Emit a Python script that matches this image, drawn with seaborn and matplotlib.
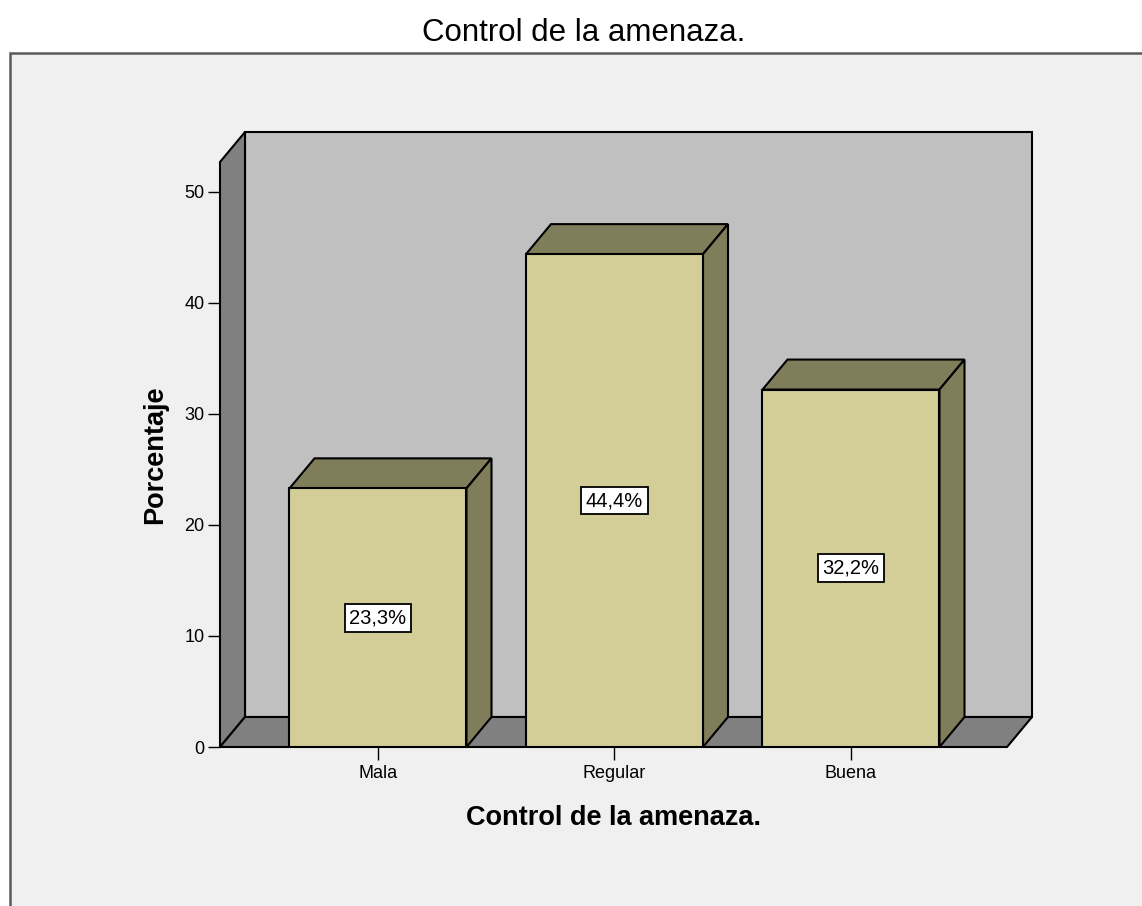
import matplotlib
matplotlib.use('Agg')
import matplotlib.pyplot as plt
from matplotlib.patches import Polygon, Rectangle
import seaborn as sns
import pandas as pd

# data
categories = ['Mala', 'Regular', 'Buena']
percentages = [23.3, 44.4, 32.2]
value_labels = ['23,3%', '44,4%', '32,2%']
y_ticks = [0, 10, 20, 30, 40, 50]

FACE = '#d3ce98'
SHADE = '#807d5b'
WALL = '#c0c0c0'
DARK = '#808080'
BG = '#f0f0f0'

sns.set_style('white')
plt.rcParams['font.family'] = ['Liberation Sans', 'DejaVu Sans']
plt.rcParams['text.color'] = 'black'
plt.rcParams['axes.labelcolor'] = 'black'

W, H = 1142, 906
fig = plt.figure(figsize=(W / 100, H / 100), dpi=100)
fig.patch.set_facecolor('white')

# outer chart frame (runs past right and bottom edges like the screenshot)
fig.patches.append(Rectangle((10 / W, -0.05), 1.1, (H - 53) / H + 0.05,
                             transform=fig.transFigure, facecolor=BG,
                             edgecolor='#5a5a5a', linewidth=1.8, zorder=-5))

fig.text(584 / W, 1 - 33 / H, 'Control de la amenaza.', ha='center', va='center',
         fontsize=22.5, color='black')

# axes = front plane of the 3D box
x_left_px, x_right_px, y0_px, ytop_px = 220, 1007, 747, 162
ax = fig.add_axes([x_left_px / W, (H - y0_px) / H,
                   (x_right_px - x_left_px) / W, (y0_px - ytop_px) / H])
ax.set_zorder(2)
ax.patch.set_visible(False)

px_per_x = 236.5
x0 = (x_left_px - 378) / px_per_x
x1 = (x_right_px - 378) / px_per_x
ytop = 52.7
px_per_y = (y0_px - ytop_px) / ytop
ddx = 25 / px_per_x
ddy = 30 / px_per_y

df = pd.DataFrame({'cat': categories, 'pct': percentages})
bar_w = 177 / px_per_x
sns.barplot(data=df, x='cat', y='pct', color=FACE, saturation=1, width=bar_w,
            edgecolor='black', linewidth=1.5, ax=ax, zorder=3)
ax.set_xlim(x0, x1)
ax.set_ylim(0, ytop)

edge = dict(edgecolor='black', linewidth=1.5, clip_on=False, joinstyle='miter')

# back wall, left wall, floor
ax.add_patch(Polygon([(x0 + ddx, ddy), (x1 + ddx, ddy), (x1 + ddx, ytop + ddy),
                      (x0 + ddx, ytop + ddy)], facecolor=WALL, zorder=0.5, **edge))
ax.add_patch(Polygon([(x0, 0), (x0, ytop), (x0 + ddx, ytop + ddy), (x0 + ddx, ddy)],
                     facecolor=DARK, zorder=0.6, **edge))
ax.add_patch(Polygon([(x0, 0), (x1, 0), (x1 + ddx, ddy), (x0 + ddx, ddy)],
                     facecolor=DARK, zorder=0.6, **edge))

for i, (h, lab) in enumerate(zip(percentages, value_labels)):
    l, r = i - bar_w / 2, i + bar_w / 2
    ax.add_patch(Polygon([(l, h), (r, h), (r + ddx, h + ddy), (l + ddx, h + ddy)],
                         facecolor=SHADE, zorder=2, **edge))
    ax.add_patch(Polygon([(r, 0), (r, h), (r + ddx, h + ddy), (r + ddx, ddy)],
                         facecolor=SHADE, zorder=2, **edge))
    ax.text(i, h / 2, lab, ha='center', va='center', fontsize=14.5, zorder=5,
            color='black',
            bbox=dict(boxstyle='square,pad=0.22', facecolor='white',
                      edgecolor='black', linewidth=1.3))

for s in ax.spines.values():
    s.set_visible(False)
ax.set_yticks(y_ticks)
ax.tick_params(axis='both', length=9, width=1, color='black', labelsize=13,
               labelcolor='black')
ax.tick_params(axis='y', pad=2, left=True)
ax.tick_params(axis='x', pad=4, bottom=True)

ax.set_xlabel('Control de la amenaza.', fontsize=19.5, fontweight='bold')
ax.xaxis.set_label_coords(0.5, (y0_px - 818) / (y0_px - ytop_px))
ax.xaxis.label.set_va('center')
ax.set_ylabel('Porcentaje', fontsize=19.5, fontweight='bold')
ax.yaxis.set_label_coords((155 - x_left_px) / (x_right_px - x_left_px), 0.5)
ax.yaxis.label.set_va('center')

fig.savefig('out.png', dpi=100)
